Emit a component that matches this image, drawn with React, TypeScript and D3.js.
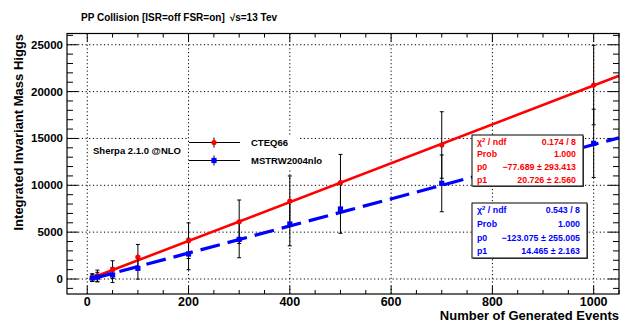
import React from "react";
import * as d3 from "d3";

const xEvents = [10, 20, 50, 100, 200, 300, 400, 500, 700, 1000];
const cteqValues = [150, 350, 1000, 2350, 4090, 6110, 8320, 10300, 14300, 20700];
const cteqErrors = [420, 600, 950, 1340, 1900, 2320, 2680, 3000, 3550, 4240];
const mstrwValues = [100, 200, 430, 1140, 2670, 4230, 5870, 7470, 10210, 14480];
const mstrwErrors = [360, 510, 810, 1150, 1680, 1960, 2330, 2590, 3030, 3640];

const cteqFit = { p0: -77.689, p1: 20.726 };
const mstrwFit = { p0: -123.075, p1: 14.465 };

const cteqStats = [
  ["χ2 / ndf", "0.174 / 8"],
  ["Prob", "1.000"],
  ["p0", "−77.689 ± 293.413"],
  ["p1", "20.726 ± 2.560"],
];
const mstrwStats = [
  ["χ2 / ndf", "0.543 / 8"],
  ["Prob", "1.000"],
  ["p0", "−123.075 ± 255.005"],
  ["p1", "14.465 ± 2.163"],
];

const xMajorTicks = [0, 200, 400, 600, 800, 1000];
const yMajorTicks = [0, 5000, 10000, 15000, 20000, 25000];

const W = 629;
const H = 322;
const L = 67, R = 619, T = 33.5, B = 294;
const FONT = "'Liberation Sans', Arial, Helvetica, sans-serif";

export default function App() {
  const x = d3.scaleLinear().domain([-40, 1050]).range([L, R]);
  const y = d3.scaleLinear().domain([-1600, 26200]).range([B, T]);

  const xMinor = d3.range(0, 1051, 50).filter((v) => v % 200 !== 0);
  const yMinor = d3.range(-1000, 26001, 1000).filter((v) => v % 5000 !== 0);

  const fitLine = (f: { p0: number; p1: number }) => {
    const x0 = xEvents[0];
    const x1 = 1050;
    return d3.line<number>()
      .x((v) => x(v))
      .y((v) => y(f.p0 + f.p1 * v))([x0, x1]) as string;
  };

  const errBars = (vals: number[], errs: number[], key: string) =>
    xEvents.map((xv, i) => {
      const cx = x(xv);
      const top = Math.max(y(vals[i] + errs[i]), T);
      const bot = Math.min(y(vals[i] - errs[i]), B);
      return (
        <g key={key + i} stroke="#000" strokeWidth={1}>
          <line x1={cx} x2={cx} y1={top} y2={bot} />
          <line x1={cx - 2} x2={cx + 2} y1={top} y2={top} />
          <line x1={cx - 2} x2={cx + 2} y1={bot} y2={bot} />
        </g>
      );
    });

  const statBox = (
    rows: string[][],
    color: string,
    bx: number,
    by: number,
    bw: number,
    bh: number,
    key: string
  ) => {
    const step = bh / 4;
    return (
      <g key={key}>
        <rect x={bx + 1} y={by + 1} width={bw} height={bh} fill="#555" />
        <rect x={bx} y={by} width={bw} height={bh} fill="#fff" stroke="#000" strokeWidth={1} />
        {rows.map((r, i) => {
          const ty = by + step * (i + 0.5) + 3.3;
          const isChi = r[0].startsWith("χ");
          return (
            <g key={i} fontFamily={FONT} fontWeight="bold" fontSize={8.8} fill={color}>
              <text x={bx + 5} y={ty}>
                {isChi ? (
                  <>
                    χ<tspan dy={-3} fontSize={6}>2</tspan>
                    <tspan dy={3}> / ndf</tspan>
                  </>
                ) : (
                  r[0]
                )}
              </text>
              <text x={bx + bw - 7} y={ty} textAnchor="end">
                {r[1]}
              </text>
            </g>
          );
        })}
      </g>
    );
  };

  return (
    <svg
      width={W}
      height={H}
      style={{ position: "absolute", left: 0, top: 0, background: "#fff" }}
      fontFamily={FONT}
    >
      <rect x={0} y={0} width={W} height={H} fill="#fff" />

      {/* grid */}
      <g stroke="#000" strokeWidth={1} strokeDasharray="1.2,2.5">
        {xMajorTicks.map((v) => (
          <line key={"gx" + v} x1={x(v)} x2={x(v)} y1={T} y2={B} />
        ))}
        {yMajorTicks.map((v) => (
          <line key={"gy" + v} x1={L} x2={R} y1={y(v)} y2={y(v)} />
        ))}
      </g>

      {/* ticks */}
      <g stroke="#000" strokeWidth={1}>
        {xMajorTicks.map((v) => (
          <g key={"tx" + v}>
            <line x1={x(v)} x2={x(v)} y1={B} y2={B - 8} />
            <line x1={x(v)} x2={x(v)} y1={T} y2={T + 8} />
          </g>
        ))}
        {xMinor.map((v) => (
          <g key={"tmx" + v}>
            <line x1={x(v)} x2={x(v)} y1={B} y2={B - 4} />
            <line x1={x(v)} x2={x(v)} y1={T} y2={T + 4} />
          </g>
        ))}
        {yMajorTicks.map((v) => (
          <g key={"ty" + v}>
            <line x1={L} x2={L + 11} y1={y(v)} y2={y(v)} />
            <line x1={R} x2={R - 11} y1={y(v)} y2={y(v)} />
          </g>
        ))}
        {yMinor.map((v) => (
          <g key={"tmy" + v}>
            <line x1={L} x2={L + 6} y1={y(v)} y2={y(v)} />
            <line x1={R} x2={R - 6} y1={y(v)} y2={y(v)} />
          </g>
        ))}
      </g>

      {/* fit lines */}
      <path d={fitLine(cteqFit)} stroke="#ff0000" strokeWidth={2.6} fill="none" />
      <path
        d={fitLine(mstrwFit)}
        stroke="#0000ff"
        strokeWidth={3.2}
        fill="none"
        strokeDasharray="20,8"
      />

      {/* error bars */}
      {errBars(cteqValues, cteqErrors, "ec")}
      {errBars(mstrwValues, mstrwErrors, "em")}

      {/* markers */}
      {xEvents.map((xv, i) => (
        <circle key={"mc" + i} cx={x(xv)} cy={y(cteqValues[i])} r={2.6} fill="#ff0000" />
      ))}
      {xEvents.map((xv, i) => (
        <rect
          key={"mm" + i}
          x={x(xv) - 2.6}
          y={y(mstrwValues[i]) - 2.6}
          width={5.2}
          height={5.2}
          fill="#0000ff"
        />
      ))}

      {/* frame */}
      <rect x={L} y={T} width={R - L} height={B - T} fill="none" stroke="#000" strokeWidth={1.2} />

      {/* legend */}
      <rect x={189} y={135} width={109} height={34} fill="#fff" />
      <text x={93} y={154} fontSize={9.5} fontWeight="bold" fill="#000">
        Sherpa 2.1.0 @NLO
      </text>
      <g stroke="#000" strokeWidth={1}>
        <line x1={189} x2={240} y1={142.5} y2={142.5} />
        <line x1={214} x2={214} y1={137.5} y2={147.5} />
        <line x1={189} x2={240} y1={160.5} y2={160.5} />
        <line x1={214} x2={214} y1={155.5} y2={165.5} />
      </g>
      <circle cx={214} cy={142.5} r={2.6} fill="#ff0000" />
      <rect x={211.4} y={157.9} width={5.2} height={5.2} fill="#0000ff" />
      <text x={251} y={146} fontSize={9.5} fontWeight="bold" fill="#000">
        CTEQ66
      </text>
      <text x={251} y={164} fontSize={9.5} fontWeight="bold" fill="#000">
        MSTRW2004nlo
      </text>

      {/* stat boxes */}
      {statBox(cteqStats, "#ff0000", 472, 135, 111, 51, "sb1")}
      {statBox(mstrwStats, "#0000ff", 472, 203, 115, 55, "sb2")}

      {/* tick labels */}
      {xMajorTicks.map((v) => (
        <text
          key={"lx" + v}
          x={x(v)}
          y={306}
          textAnchor="middle"
          fontSize={12.5}
          fontWeight="bold"
          fill="#000"
        >
          {v}
        </text>
      ))}
      {yMajorTicks.map((v) => (
        <text
          key={"ly" + v}
          x={63}
          y={y(v) + 4}
          textAnchor="end"
          fontSize={11.5}
          fontWeight="bold"
          fill="#000"
        >
          {v}
        </text>
      ))}

      {/* axis titles */}
      <text x={619} y={320} textAnchor="end" fontSize={13} fontWeight="bold" fill="#000">
        Number of Generated Events
      </text>
      <text
        transform="translate(23,34) rotate(-90)"
        textAnchor="end"
        fontSize={13}
        fontWeight="bold"
        fill="#000"
      >
        Integrated Invariant Mass Higgs
      </text>

      {/* title */}
      <text x={81} y={20.5} fontWeight="bold" fill="#000" fontSize={10}>
        PP Collision [ISR=off FSR=on]
        <tspan dx={5}>√s=13 Tev</tspan>
      </text>
    </svg>
  );
}
